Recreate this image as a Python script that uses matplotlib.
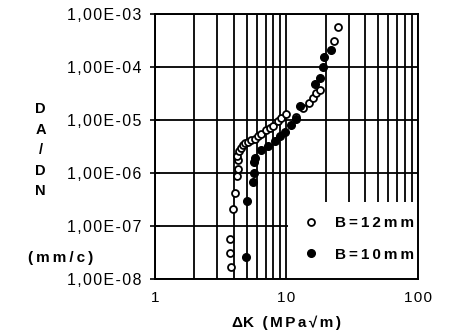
import matplotlib
matplotlib.use("Agg")
import matplotlib.pyplot as plt
from matplotlib.patches import Rectangle
from matplotlib.ticker import FixedLocator, NullFormatter

plt.rcParams['font.family'] = ['Liberation Sans', 'DejaVu Sans']

# crack growth data
dk_12 = [3.79, 3.75, 3.71, 3.97, 4.07, 4.22, 4.29, 4.30, 4.25, 4.4, 4.5, 4.67, 4.9,
         5.1, 5.4, 5.77, 6.1, 6.46, 7.07, 7.5, 8.0, 8.62, 9.2, 9.9, 11.8, 13.5,
         14.8, 15.9, 16.8, 18.1, 23.3, 24.9]
dadn_12 = [1.66e-8, 3.1e-8, 5.75e-8, 2.1e-7, 4.1e-7, 8.7e-7, 1.2e-6, 1.74e-6, 2.1e-6,
           2.6e-6, 2.9e-6, 3.35e-6, 3.6e-6, 3.8e-6, 4.1e-6, 4.4e-6, 4.9e-6, 5.4e-6,
           6.3e-6, 7.1e-6, 7.8e-6, 9.5e-6, 1.07e-5, 1.29e-5, 1.15e-5, 1.7e-5, 2.1e-5,
           2.6e-5, 3.2e-5, 3.6e-5, 3.1e-4, 5.6e-4]

dk_10 = [4.94, 4.99, 5.6, 5.7, 5.72, 5.8, 6.46, 7.28, 8.2, 9.0, 9.86, 10.8, 11.9,
         12.7, 16.6, 18.1, 19.1, 19.4, 21.9]
dadn_10 = [2.6e-8, 2.95e-7, 6.6e-7, 9.8e-7, 1.58e-6, 1.9e-6, 2.75e-6, 3.2e-6, 4.0e-6,
           4.9e-6, 6.0e-6, 7.9e-6, 1.02e-5, 1.8e-5, 4.8e-5, 6.2e-5, 1.0e-4, 1.5e-4, 2.1e-4]

yticks = [1e-8, 1e-7, 1e-6, 1e-5, 1e-4, 1e-3]
ylabels = ['1,00E-08', '1,00E-07', '1,00E-06', '1,00E-05', '1,00E-04', '1,00E-03']
xticks = [1, 10, 100]
xlabels = ['1', '10', '100']

TS = '\u2009'  # thin space, the scan has wide letter spacing
HS = '\u200a'  # hair space for the tick labels


def spaced(s, sep=TS):
    return sep.join(s)


fig = plt.figure(figsize=(4.5, 3.36), dpi=100)
ax = fig.add_axes([0.344, 0.170, 0.584, 0.789])
ax.set_xscale('log')
ax.set_yscale('log')
ax.set_xlim(1, 100)
ax.set_ylim(1e-8, 1e-3)

# grid: every integer on x, decades on y
xminor = [m * d for d in (1, 10) for m in range(2, 10)]
ax.xaxis.set_major_locator(FixedLocator(xticks))
ax.xaxis.set_minor_locator(FixedLocator(xminor))
ax.xaxis.set_minor_formatter(NullFormatter())
ax.yaxis.set_major_locator(FixedLocator(yticks))
ax.yaxis.set_minor_locator(FixedLocator([]))
ax.set_xticklabels([spaced(t, HS) for t in xlabels], fontsize=11)
ax.set_yticklabels([spaced(t, HS) for t in ylabels], fontsize=11.5)
ax.grid(True, which='both', axis='x', color='black', lw=1.3, zorder=1)
ax.grid(True, which='major', axis='y', color='black', lw=1.3, zorder=1)
ax.tick_params(axis='x', which='both', length=0, pad=9)
ax.tick_params(axis='y', which='major', direction='inout', length=7, width=1.2, pad=6)
for s in ax.spines.values():
    s.set_linewidth(1.4)

# blank area behind the legend
ax.add_patch(Rectangle((10.4, 1e-8), 100 - 10.4, 10**-6.55 - 1e-8,
                       facecolor='white', edgecolor='none', zorder=2))

ax.plot(dk_12, dadn_12, 'o', ms=5, mfc='white', mec='black', mew=1.3,
        ls='none', zorder=3, label=spaced('B=12mm'))
ax.plot(dk_10, dadn_10, 'o', ms=5.5, mfc='black', mec='black',
        ls='none', zorder=3, label=spaced('B=10mm'))

leg = ax.legend(loc='lower left', bbox_to_anchor=(0.565, 0.065), frameon=False,
                prop={'weight': 'bold', 'size': 11}, handletextpad=1.1,
                labelspacing=1.15, handlelength=1.0, borderpad=0, borderaxespad=0)
leg.set_zorder(4)

fig.text(0.09, 0.553, 'D\nA\n/\nD\nN', ha='center', va='center',
         fontsize=10.5, fontweight='bold', linespacing=1.6)
fig.text(0.135, 0.233, spaced('(mm/c)'), ha='center', va='center',
         fontsize=11, fontweight='bold')
ax.set_xlabel('\u0394K  ' + spaced('(MPa\u221am)', HS + HS), fontsize=11,
              fontweight='bold', labelpad=7)

fig.savefig('out.png', dpi=100)
